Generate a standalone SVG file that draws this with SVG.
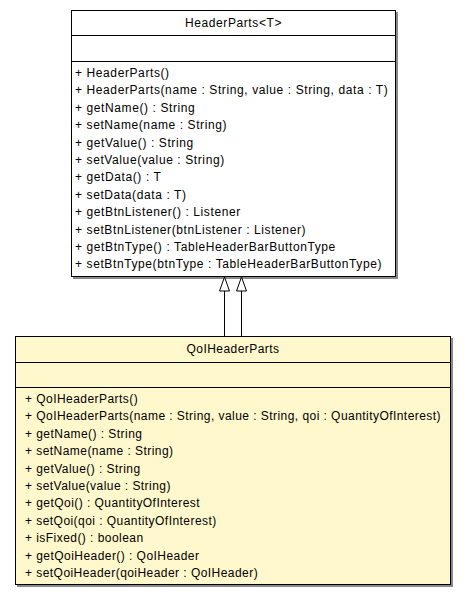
<svg xmlns="http://www.w3.org/2000/svg" width="467" height="596" viewBox="0 0 467 596">
<style>
text { font-family: "Liberation Sans", Arial, sans-serif; font-size: 12px; fill: #000; }
#HeaderParts text { letter-spacing: 0.6px; }
#QoIHeaderParts text { letter-spacing: 0.45px; }
.title { text-anchor: middle; }
.box { stroke: #000; stroke-width: 1; }
.shadow { fill: none; stroke: #8a8a8a; stroke-width: 2; }
.div { stroke: #000; stroke-width: 1; }
.edge { stroke: #000; stroke-width: 1; fill: none; }
.head { fill: #fff; stroke: #000; stroke-width: 1; }
</style>
<rect width="467" height="596" fill="#fff"/>
<g id="HeaderParts">
<path class="shadow" d="M397,12 V278 H73"/>
<rect class="box" x="71.5" y="10.5" width="324" height="266" fill="#fff"/>
<line class="div" x1="71.5" y1="35.5" x2="395.5" y2="35.5"/>
<line class="div" x1="71.5" y1="61.5" x2="395.5" y2="61.5"/>
<text class="title" x="233.5" y="27">HeaderParts&lt;T&gt;</text>
<text x="75" y="77">+ HeaderParts()</text>
<text x="75" y="94.4">+ HeaderParts(name : String, value : String, data : T)</text>
<text x="75" y="111.8">+ getName() : String</text>
<text x="75" y="129.2">+ setName(name : String)</text>
<text x="75" y="146.6">+ getValue() : String</text>
<text x="75" y="164">+ setValue(value : String)</text>
<text x="75" y="181.4">+ getData() : T</text>
<text x="75" y="198.8">+ setData(data : T)</text>
<text x="75" y="216.2">+ getBtnListener() : Listener</text>
<text x="75" y="233.6">+ setBtnListener(btnListener : Listener)</text>
<text x="75" y="251">+ getBtnType() : TableHeaderBarButtonType</text>
<text x="75" y="268.4">+ setBtnType(btnType : TableHeaderBarButtonType)</text>
</g>
<g id="QoIHeaderParts">
<path class="shadow" d="M452,338 V586 H17"/>
<rect class="box" x="15.5" y="336.5" width="435" height="248" fill="#FFF8CC"/>
<line class="div" x1="15.5" y1="362.5" x2="450.5" y2="362.5"/>
<line class="div" x1="15.5" y1="387.5" x2="450.5" y2="387.5"/>
<text class="title" x="233" y="353">QoIHeaderParts</text>
<text x="25" y="403">+ QoIHeaderParts()</text>
<text x="25" y="420.4">+ QoIHeaderParts(name : String, value : String, qoi : QuantityOfInterest)</text>
<text x="25" y="437.8">+ getName() : String</text>
<text x="25" y="455.2">+ setName(name : String)</text>
<text x="25" y="472.6">+ getValue() : String</text>
<text x="25" y="490">+ setValue(value : String)</text>
<text x="25" y="507.4">+ getQoi() : QuantityOfInterest</text>
<text x="25" y="524.8">+ setQoi(qoi : QuantityOfInterest)</text>
<text x="25" y="542.2">+ isFixed() : boolean</text>
<text x="25" y="559.6">+ getQoiHeader() : QoIHeader</text>
<text x="25" y="577">+ setQoiHeader(qoiHeader : QoIHeader)</text>
</g>
<g id="connectors">
<line class="edge" x1="224.5" y1="336" x2="224.5" y2="291"/>
<path class="head" d="M224.5,277 L229.5,291 L219.5,291 Z"/>
<line class="edge" x1="241.5" y1="336" x2="241.5" y2="291"/>
<path class="head" d="M241.5,277 L246.5,291 L236.5,291 Z"/>
</g>
</svg>
